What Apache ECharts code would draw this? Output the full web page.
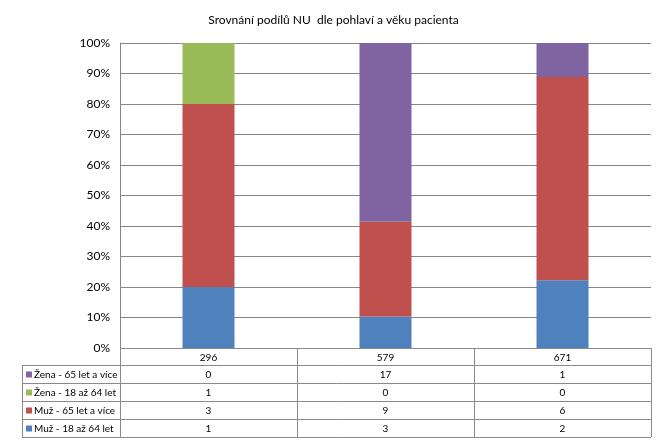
<!DOCTYPE html>
<html><head><meta charset="utf-8">
<script src="https://cdn.jsdelivr.net/npm/echarts@6/dist/echarts.min.js"></script>
<style>html,body{margin:0;padding:0;background:#fff}#c{width:667px;height:442px}</style>
</head><body><div id="c"></div>
<script>
const title = 'Srovnání podílů NU  dle pohlaví a věku pacienta';
const categories = ['296', '579', '671'];
const seriesNames = ['Muž - 18 až 64 let', 'Muž - 65 let a více', 'Žena - 18 až 64 let', 'Žena - 65 let a více'];
const muz1864 = [1, 3, 2];
const muz65 = [3, 9, 6];
const zena1864 = [1, 0, 0];
const zena65 = [0, 17, 1];
const colors = ['#4F81BD', '#C0504D', '#9BBB59', '#8064A2'];
const yTicks = [0, 10, 20, 30, 40, 50, 60, 70, 80, 90, 100];

const counts = [muz1864, muz65, zena1864, zena65];
const totals = categories.map((_, i) => counts.reduce((s, a) => s + a[i], 0));
const pct = counts.map(a => a.map((v, i) => v / totals[i] * 100));

const FONT = 'Lato, "Open Sans", sans-serif';
const chart = echarts.init(document.getElementById('c'), null, {renderer: 'canvas'});
const gridL = 120, gridR = 16, gridT = 43, gridB = 94;
chart.setOption({
  animation: false,
  title: {text: title, left: 'center', top: 9, textStyle: {fontFamily: FONT, fontSize: 12, fontWeight: 'normal', color: '#000'}},
  grid: {left: gridL, right: gridR, top: gridT, bottom: gridB},
  xAxis: {type: 'category', data: categories, axisLabel: {show: false}, axisTick: {show: false},
    axisLine: {show: false}},
  yAxis: {type: 'value', min: 0, max: 100, interval: 10,
    axisLabel: {formatter: v => v + '%', fontFamily: FONT, fontSize: 12, color: '#000', margin: 10},
    axisLine: {show: true, lineStyle: {color: '#868686'}}, axisTick: {show: false},
    splitLine: {lineStyle: {color: '#868686'}}},
  series: seriesNames.map((n, k) => ({
    name: n, type: 'bar', stack: 'a', barWidth: 52, data: pct[k],
    itemStyle: {color: colors[k]}
  }))
});

// data table
const lineC = '#8a8a8a';
const x0 = 22, xL = gridL, xR = 667 - gridR;
const yTop = 442 - gridB;
const rowH = [17, 18, 18, 18, 18];
const rowsY = [yTop];
rowH.forEach(h => rowsY.push(rowsY[rowsY.length - 1] + h));
const colW = (xR - xL) / categories.length;
const els = [];
const line = (x1, y1, x2, y2) => els.push({type: 'line', silent: true, shape: {x1, y1, x2, y2}, style: {stroke: lineC, lineWidth: 1}});
// horizontal lines
line(xL, rowsY[0] + 0.5, xR, rowsY[0] + 0.5);
for (let r = 1; r < rowsY.length; r++) line(x0, rowsY[r] + 0.5, xR, rowsY[r] + 0.5);
// vertical lines
line(x0 + 0.5, rowsY[1], x0 + 0.5, rowsY[5]);
for (let c = 0; c <= categories.length; c++) {
  const x = Math.round(xL + c * colW) + 0.5;
  line(x, rowsY[0], x, rowsY[5]);
}
const txt = (text, x, y, align) => els.push({type: 'text', silent: true, x, y,
  style: {text, fontFamily: FONT, fontSize: 10, fill: '#000', align, verticalAlign: 'middle'}});
categories.forEach((c, i) => {
  const cx = chart.convertToPixel({xAxisIndex: 0}, i);
  txt(c, cx, (rowsY[0] + rowsY[1]) / 2 + 1, 'center');
});
// rows top to bottom: reverse series order
const order = [3, 2, 1, 0];
order.forEach((k, r) => {
  const cy = (rowsY[r + 1] + rowsY[r + 2]) / 2 + 1;
  els.push({type: 'rect', silent: true, shape: {x: x0 + 4, y: cy - 3.5, width: 6, height: 6}, style: {fill: colors[k]}});
  txt(seriesNames[k], x0 + 12, cy, 'left');
  categories.forEach((c, i) => {
    const cx = chart.convertToPixel({xAxisIndex: 0}, i);
    txt(String(counts[k][i]), cx, cy, 'center');
  });
});
chart.setOption({graphic: {elements: els}});
</script></body></html>
